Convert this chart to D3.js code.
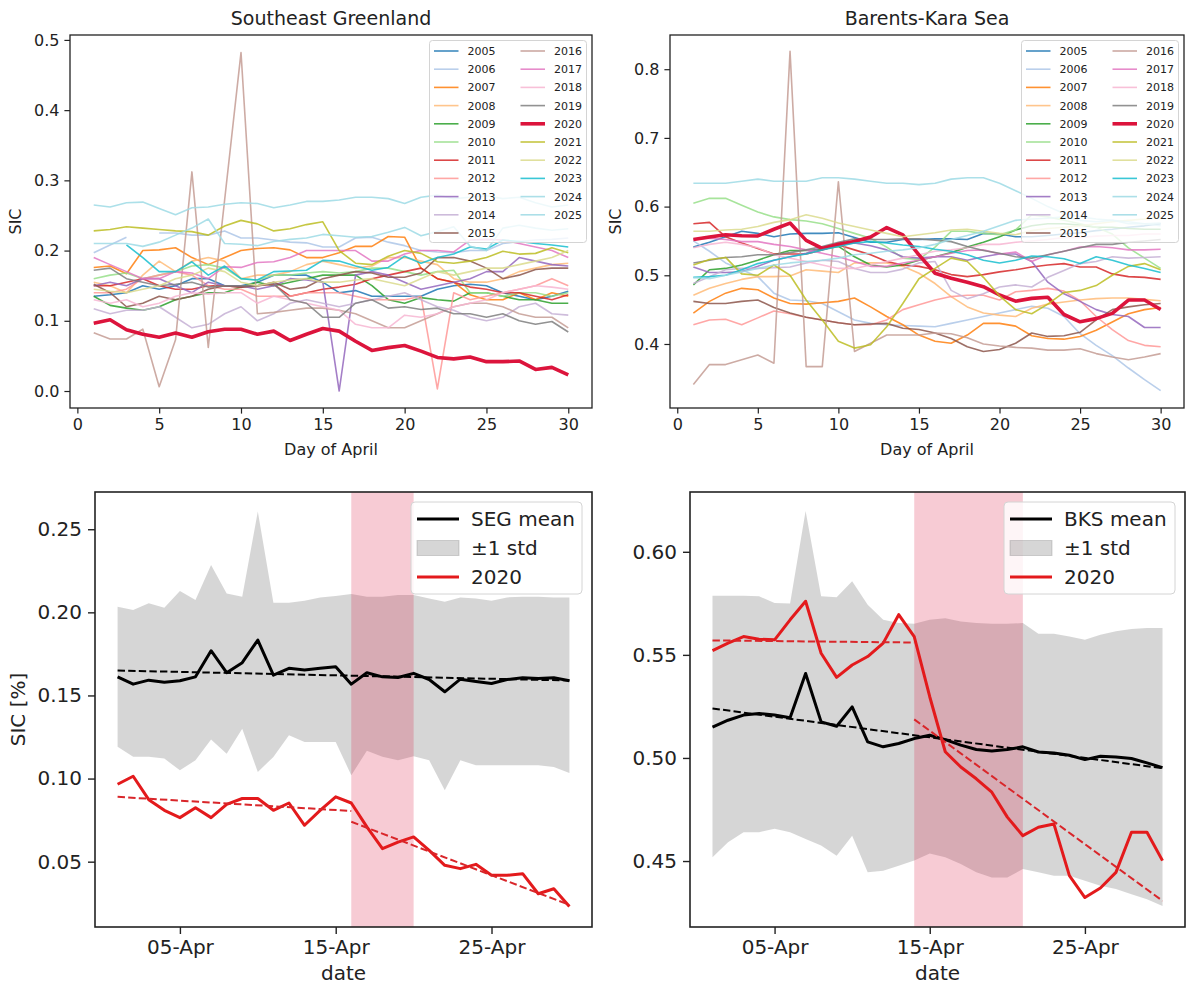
<!DOCTYPE html>
<html>
<head>
<meta charset="utf-8">
<script src="https://cdn.jsdelivr.net/npm/d3@7"></script>
<style>
  body { margin: 0; background: #fff; }
  svg { display: block; font-family: "DejaVu Sans", sans-serif; }
</style>
</head>
<body>
<svg id="chart" width="1186" height="986"></svg>
<script>
// ---- data ----
const days = [1,2,3,4,5,6,7,8,9,10,11,12,13,14,15,16,17,18,19,20,21,22,23,24,25,26,27,28,29,30];
const years = ["2005","2006","2007","2008","2009","2010","2011","2012","2013","2014","2015",
               "2016","2017","2018","2019","2020","2021","2022","2023","2024","2025"];
const yearColors = ["#1f77b4","#aec7e8","#ff7f0e","#ffbb78","#2ca02c","#98df8a","#d62728","#ff9896",
                    "#9467bd","#c5b0d5","#8c564b","#c49c94","#e377c2","#f7b6d2","#7f7f7f","#dc143c",
                    "#bcbd22","#dbdb8d","#17becf","#9edae5","#9edae5"];

// Southeast Greenland, daily SIC per year
const seg2005 = [0.135,0.137,0.14,0.15,0.145,0.15,0.16,0.16,0.15,0.15,0.155,0.165,0.165,0.165,0.155,0.14,0.143,0.135,0.135,0.135,0.135,0.145,0.15,0.152,0.15,0.14,0.135,0.13,0.135,0.142];
const seg2006 = [0.197,0.208,0.219,null,0.225,0.225,0.222,0.222,0.228,0.218,0.218,0.215,0.212,0.211,0.205,0.205,0.218,0.219,0.212,0.207,0.2,0.198,0.197,0.2,0.2,0.21,0.213,0.215,0.216,0.218];
const seg2007 = [0.176,0.178,0.167,0.2,0.201,0.204,0.19,0.18,0.19,0.2,0.203,0.204,0.201,0.19,0.19,0.197,0.206,0.206,0.22,0.219,0.175,0.16,0.155,0.137,0.13,0.13,0.14,0.13,0.14,0.135];
const seg2008 = [0.155,0.15,0.14,0.165,0.185,0.17,0.185,0.19,0.185,0.16,0.165,0.165,0.17,0.18,0.185,0.18,0.175,0.178,0.19,0.19,0.185,0.18,0.16,0.155,0.155,0.16,0.17,0.175,0.18,0.182];
const seg2009 = [0.135,0.122,0.118,0.115,0.12,0.13,0.135,0.14,0.14,0.148,0.155,0.15,0.155,0.16,0.165,0.165,0.165,0.15,0.13,0.125,0.133,0.13,0.128,0.14,0.14,0.135,0.13,0.13,0.125,0.125];
const seg2010 = [0.16,0.165,0.168,0.16,0.165,0.17,0.178,0.18,0.175,0.16,0.158,0.165,0.165,0.168,0.17,0.168,0.17,0.175,0.175,0.17,0.165,0.17,0.172,0.14,0.14,0.135,0.14,0.14,0.135,0.14];
const seg2011 = [0.15,0.15,0.155,0.16,0.15,0.145,0.145,0.15,0.15,0.148,0.15,0.152,0.135,0.14,0.145,0.148,0.152,0.16,0.165,0.17,0.175,0.16,0.155,0.148,0.145,0.14,0.14,0.135,0.13,0.137];
const seg2012 = [0.14,0.14,0.145,0.16,0.165,0.17,0.165,0.15,0.145,0.145,0.135,0.135,0.135,0.14,0.14,0.14,0.135,0.13,0.13,0.13,0.135,0.003,0.14,0.13,0.135,0.14,0.145,0.15,0.16,0.15];
const seg2013 = [0.15,0.155,0.15,0.16,0.16,0.15,0.14,0.155,0.15,0.15,0.145,0.15,0.16,0.158,0.155,0.0,0.165,0.17,0.165,0.155,0.145,0.15,0.155,0.16,0.17,0.17,0.19,0.185,0.18,0.178];
const seg2014 = [0.117,0.11,0.115,0.115,0.12,0.105,0.09,0.095,0.11,0.12,0.1,0.11,0.125,0.13,0.125,0.12,0.125,0.13,0.135,0.14,0.13,0.12,0.115,0.105,0.1,0.105,0.12,0.125,0.11,0.108];
const seg2015 = [0.152,0.14,0.12,0.125,0.135,0.13,0.135,0.145,0.15,0.148,0.15,0.155,0.145,0.148,0.16,0.165,0.17,0.168,0.162,0.162,0.168,0.19,0.19,0.185,0.175,0.16,0.165,0.173,0.175,0.175];
const seg2016 = [0.083,0.074,0.074,0.088,0.006,0.073,0.312,0.062,0.272,0.482,0.11,0.112,0.115,0.118,0.118,0.115,0.11,0.1,0.09,0.09,0.1,0.11,0.12,0.125,0.125,0.12,0.11,0.105,0.105,0.09];
const seg2017 = [0.19,0.18,0.17,0.16,0.16,0.17,0.168,0.16,0.177,0.176,0.183,0.184,0.19,0.2,0.2,0.2,0.2,0.185,0.185,0.195,0.2,0.2,0.198,0.215,0.216,0.215,0.21,0.205,0.2,0.19];
const seg2018 = [0.13,0.125,0.13,0.12,0.125,0.135,0.14,0.138,0.14,0.14,0.125,0.135,0.13,0.125,0.12,0.115,0.095,0.09,0.09,0.108,0.105,0.11,0.12,0.125,0.13,0.14,0.145,0.15,0.148,0.145];
const seg2019 = [0.172,0.175,0.16,0.155,0.15,0.152,0.155,0.148,0.15,0.15,0.15,0.153,0.13,0.125,0.105,0.105,0.125,0.13,0.118,0.12,0.116,0.118,0.11,0.11,0.105,0.11,0.1,0.095,0.099,0.084];
const seg2020 = [0.0966,0.1014,0.0873,0.0809,0.0765,0.0825,0.0765,0.0845,0.088,0.088,0.0809,0.0853,0.0719,0.0809,0.089,0.0853,0.0709,0.0578,0.0618,0.0649,0.0568,0.0478,0.0458,0.0484,0.0418,0.0418,0.0428,0.0307,0.0337,0.0231];
const seg2021 = [0.228,0.23,0.234,0.232,0.23,0.228,0.227,0.222,0.235,0.243,0.238,0.228,0.231,0.237,0.241,0.2,0.182,0.18,0.192,0.2,0.196,0.184,0.182,0.185,0.19,0.199,0.195,0.196,0.204,0.197];
const seg2022 = [0.145,0.142,0.14,0.145,0.15,0.16,0.165,0.175,0.17,0.155,0.15,0.155,0.158,0.16,0.155,0.155,0.158,0.16,0.155,0.15,0.16,0.17,0.165,0.17,0.175,0.175,0.18,0.185,0.19,0.2];
const seg2023 = [null,null,0.208,0.19,0.17,0.17,0.184,0.165,0.178,0.16,0.158,0.17,0.171,0.172,0.186,0.185,0.178,0.172,0.176,0.192,0.182,0.19,0.195,0.205,0.202,0.215,0.213,0.21,0.208,0.205];
const seg2024 = [0.265,0.262,0.268,0.269,0.26,0.251,0.261,0.262,0.266,0.268,0.267,0.261,0.265,0.27,0.27,0.272,0.276,0.276,0.274,0.267,0.276,0.279,0.274,0.276,0.278,0.274,0.276,0.268,0.262,0.265];
const seg2025 = [0.21,0.21,0.21,0.206,0.212,0.222,0.232,0.245,0.21,0.209,0.207,0.213,0.216,0.218,0.223,0.221,0.219,0.22,0.226,0.233,0.221,0.227,0.234,0.206,0.2,0.232,0.236,0.232,0.229,0.231];

// Barents-Kara Sea, daily SIC per year
const bks2005 = [0.541,0.548,0.556,0.564,0.561,0.556,0.56,0.561,0.561,0.562,0.555,0.548,0.548,0.552,0.552,0.553,0.553,0.552,0.561,0.56,0.556,0.556,0.558,0.56,0.562,0.565,0.567,0.57,0.572,0.575];
const bks2006 = [0.55,0.535,0.518,0.508,0.498,0.474,0.464,0.463,0.459,0.447,0.435,0.43,0.428,0.427,0.426,0.425,0.43,0.435,0.44,0.445,0.45,0.455,0.452,0.44,0.415,0.398,0.383,0.365,0.348,0.332];
const bks2007 = [0.445,0.462,0.474,0.481,0.479,0.467,0.459,0.458,0.46,0.462,0.467,0.454,0.44,0.428,0.413,0.404,0.401,0.413,0.43,0.43,0.426,0.412,0.408,0.407,0.411,0.42,0.432,0.444,0.45,0.453];
const bks2008 = [0.471,0.481,0.488,0.494,0.498,0.498,0.499,0.508,0.506,0.504,0.518,0.518,0.518,0.513,0.503,0.488,0.469,0.454,0.445,0.442,0.44,0.452,0.458,0.461,0.464,0.466,0.467,0.467,0.465,0.463];
const bks2009 = [0.486,0.508,0.51,0.515,0.522,0.53,0.536,0.536,0.538,0.542,0.527,0.515,0.512,0.515,0.522,0.527,0.533,0.541,0.548,0.556,0.566,0.572,0.575,0.575,0.573,0.57,0.57,0.568,0.567,0.567];
const bks2010 = [0.605,0.612,0.612,0.602,0.592,0.585,0.581,0.579,0.575,0.568,0.561,0.554,0.541,0.525,0.523,0.541,0.564,0.564,0.561,0.559,0.566,0.588,0.585,0.58,0.575,0.57,0.56,0.54,0.525,0.51];
const bks2011 = [0.575,0.577,0.556,0.547,0.539,0.531,0.531,0.531,0.537,0.544,0.537,0.53,0.52,0.515,0.513,0.508,0.501,0.498,0.501,0.505,0.508,0.512,0.515,0.517,0.512,0.512,0.502,0.498,0.497,0.494];
const bks2012 = [0.428,0.435,0.436,0.428,0.438,0.448,0.444,0.439,0.435,0.431,0.428,0.428,0.435,0.45,0.457,0.464,0.469,0.471,0.471,0.464,0.476,0.478,0.481,0.477,0.463,0.44,0.421,0.405,0.398,0.396];
const bks2013 = [0.512,0.504,0.504,0.505,0.513,0.522,0.527,0.532,0.541,0.544,0.547,0.543,0.537,0.527,0.525,0.527,0.527,0.522,0.527,0.531,0.531,0.52,0.49,0.473,0.462,0.45,0.443,0.44,0.424,0.424];
const bks2014 = [0.488,0.498,0.508,0.51,0.51,0.511,0.512,0.518,0.522,0.52,0.51,0.504,0.504,0.509,0.518,0.52,0.478,0.466,0.473,0.483,0.486,0.483,0.497,0.507,0.517,0.52,0.527,0.525,0.526,0.527];
const bks2015 = [0.462,0.459,0.459,0.462,0.464,0.453,0.445,0.439,0.435,0.431,0.428,0.429,0.43,0.423,0.421,0.416,0.408,0.396,0.389,0.392,0.401,0.416,0.411,0.412,0.417,0.435,0.45,0.454,0.457,0.459];
const bks2016 = [0.341,0.37,0.37,0.377,0.384,0.372,0.826,0.367,0.367,0.636,0.389,0.401,0.413,0.413,0.413,0.416,0.415,0.409,0.4,0.397,0.395,0.394,0.391,0.391,0.393,0.386,0.381,0.377,0.381,0.386];
const bks2017 = [0.552,0.554,0.552,0.549,0.549,0.545,0.542,0.537,0.532,0.527,0.52,0.513,0.513,0.518,0.522,0.527,0.532,0.536,0.537,0.531,0.534,0.52,0.53,0.535,0.541,0.542,0.54,0.537,0.537,0.538];
const bks2018 = [0.54,0.545,0.548,0.545,0.54,0.53,0.525,0.52,0.515,0.51,0.51,0.515,0.52,0.525,0.53,0.535,0.537,0.54,0.545,0.545,0.548,0.55,0.552,0.555,0.555,0.557,0.558,0.558,0.56,0.56];
const bks2019 = [0.518,0.522,0.526,0.527,0.53,0.53,0.533,0.537,0.542,0.548,0.553,0.552,0.552,0.553,0.553,0.551,0.549,0.542,0.536,0.532,0.527,0.525,0.53,0.535,0.54,0.545,0.545,0.548,0.55,0.552];
const bks2020 = [0.5521,0.5557,0.5589,0.5576,0.5573,0.567,0.576,0.5508,0.5391,0.5451,0.5492,0.5557,0.5695,0.5589,0.5297,0.503,0.4956,0.4899,0.4834,0.4713,0.4623,0.4664,0.468,0.4429,0.4323,0.4369,0.4445,0.464,0.464,0.4502];
const bks2021 = [0.515,0.523,0.526,0.502,0.5,0.515,0.5,0.464,0.435,0.404,0.394,0.399,0.425,0.459,0.495,0.51,0.525,0.52,0.497,0.47,0.45,0.444,0.458,0.475,0.478,0.485,0.5,0.513,0.517,0.508];
const bks2022 = [0.564,0.564,0.566,0.567,0.571,0.577,0.581,0.588,0.583,0.576,0.571,0.566,0.561,0.556,0.559,0.562,0.566,0.567,0.564,0.561,0.559,0.565,0.568,0.57,0.572,0.575,0.578,0.58,0.582,0.585];
const bks2023 = [0.497,0.498,0.5,0.508,0.517,0.522,0.527,0.531,0.537,0.542,0.547,0.549,0.547,0.544,0.542,0.538,0.535,0.53,0.522,0.518,0.522,0.528,0.527,0.524,0.517,0.527,0.522,0.515,0.51,0.504];
const bks2024 = [0.634,0.634,0.634,0.637,0.64,0.637,0.637,0.637,0.642,0.642,0.64,0.637,0.634,0.634,0.632,0.634,0.64,0.642,0.642,0.634,0.623,0.612,0.6,0.59,0.585,0.582,0.58,0.578,0.575,0.572];
const bks2025 = [0.497,0.495,0.5,0.505,0.51,0.515,0.518,0.52,0.522,0.525,0.53,0.532,0.535,0.537,0.54,0.545,0.552,0.558,0.564,0.572,0.58,0.582,0.583,0.585,0.58,0.578,0.58,0.575,0.575,0.576];

// climatology (mean and +-1 std)
const segMean  = [0.1612,0.1568,0.1592,0.158,0.1588,0.1612,0.1769,0.1637,0.1697,0.1833,0.1622,0.1663,0.1653,0.1663,0.1673,0.1568,0.1637,0.1612,0.1608,0.1633,0.1596,0.1522,0.1598,0.1584,0.1572,0.1596,0.1606,0.1602,0.1606,0.1588];
const segStdHi = [0.2034,0.2014,0.2054,0.2028,0.2129,0.2074,0.2285,0.2114,0.2094,0.2606,0.2058,0.2058,0.207,0.209,0.2098,0.211,0.2094,0.2094,0.2104,0.2104,0.2084,0.2064,0.209,0.2084,0.207,0.209,0.2094,0.2094,0.209,0.209];
const segStdLo = [0.1191,0.1131,0.1131,0.112,0.105,0.111,0.1235,0.115,0.13,0.104,0.113,0.126,0.122,0.122,0.122,0.102,0.1167,0.1131,0.111,0.1135,0.111,0.093,0.111,0.108,0.108,0.108,0.108,0.108,0.107,0.1034];
const bksMean  = [0.515,0.5183,0.5208,0.5216,0.5208,0.5195,0.541,0.5175,0.5154,0.5248,0.5078,0.5054,0.507,0.5094,0.511,0.5089,0.5062,0.5041,0.5034,0.5041,0.5054,0.5029,0.5024,0.5013,0.4992,0.5008,0.5005,0.4997,0.4976,0.4953];
const bksStdHi = [0.5787,0.5787,0.5787,0.5784,0.5752,0.5749,0.6198,0.5784,0.578,0.5857,0.5743,0.567,0.5654,0.5651,0.567,0.5678,0.5662,0.5654,0.5651,0.5651,0.5654,0.5602,0.5602,0.5589,0.5573,0.5597,0.5614,0.5625,0.563,0.563];
const bksStdLo = [0.4518,0.4591,0.464,0.464,0.4656,0.464,0.4607,0.4575,0.4526,0.4623,0.4445,0.4453,0.4477,0.4502,0.4537,0.4518,0.4485,0.4445,0.442,0.442,0.4461,0.4445,0.4429,0.4429,0.4404,0.438,0.4364,0.4339,0.4315,0.4282];

// trend lines [day, value] and highlighted day spans
const segMeanTrend = [[1, 0.165], [30, 0.159]];
const seg2020TrendA = [[1, 0.089], [16, 0.0805]];
const seg2020TrendB = [[16, 0.074], [30, 0.024]];
const bksMeanTrend = [[1, 0.524], [30, 0.495]];
const bks2020TrendA = [[1, 0.557], [14, 0.556]];
const bks2020TrendB = [[14, 0.5187], [30, 0.4307]];
const segSpan = [16, 20];
const bksSpan = [14, 21];

const segTicks = [0, 0.1, 0.2, 0.3, 0.4, 0.5];
const bksTicks = [0.4, 0.5, 0.6, 0.7, 0.8];
const dayTicks = [0, 5, 10, 15, 20, 25, 30];
const segMeanTicks = [0.05, 0.10, 0.15, 0.20, 0.25];
const bksMeanTicks = [0.45, 0.50, 0.55, 0.60];
const dateTicks = [5, 15, 25];

const segSeries = [seg2005,seg2006,seg2007,seg2008,seg2009,seg2010,seg2011,seg2012,seg2013,seg2014,seg2015,
                   seg2016,seg2017,seg2018,seg2019,seg2020,seg2021,seg2022,seg2023,seg2024,seg2025];
const bksSeries = [bks2005,bks2006,bks2007,bks2008,bks2009,bks2010,bks2011,bks2012,bks2013,bks2014,bks2015,
                   bks2016,bks2017,bks2018,bks2019,bks2020,bks2021,bks2022,bks2023,bks2024,bks2025];

const svg = d3.select("#chart");
const textColor = "#222";

function styleAxis(g, fs) {
    g.select(".domain").remove();
    g.selectAll(".tick line").attr("stroke", "#222").attr("stroke-width", fs > 17 ? 1.4 : 1.2);
    g.selectAll(".tick text").attr("fill", textColor).style("font-size", fs + "px")
        .style("font-family", "DejaVu Sans");
}

// top row: one line per year
function drawYearPanel(p) {
    const x = d3.scaleLinear().domain([-0.45, 31.45]).range([p.left, p.right]);
    const y = d3.scaleLinear().domain(p.yDomain).range([p.bottom, p.top]);
    const g = svg.append("g");

    const line = d3.line()
        .defined(d => d[1] != null)
        .x(d => x(d[0]))
        .y(d => y(d[1]));

    p.series.forEach((s, i) => {
        const is2020 = years[i] === "2020";
        g.append("path")
            .datum(days.map((d, j) => [d, s[j]]))
            .attr("d", line)
            .attr("fill", "none")
            .attr("stroke", yearColors[i])
            .attr("stroke-width", is2020 ? 3.6 : 1.6)
            .attr("stroke-linejoin", "round")
            .attr("opacity", is2020 ? 1 : 0.85);
    });

    const fs = 16;
    g.append("g").attr("transform", `translate(0,${p.bottom})`)
        .call(d3.axisBottom(x).tickValues(dayTicks).tickFormat(d3.format("d")).tickSize(5.6).tickPadding(5))
        .call(a => styleAxis(a, fs));
    g.append("g").attr("transform", `translate(${p.left},0)`)
        .call(d3.axisLeft(y).tickValues(p.yTicks).tickFormat(d3.format(".1f")).tickSize(5.6).tickPadding(5))
        .call(a => styleAxis(a, fs));

    g.append("rect")
        .attr("x", p.left).attr("y", p.top)
        .attr("width", p.right - p.left).attr("height", p.bottom - p.top)
        .attr("fill", "none").attr("stroke", "#222").attr("stroke-width", 1.3);

    g.append("text").attr("x", (p.left + p.right) / 2).attr("y", p.top - 10)
        .attr("text-anchor", "middle").attr("fill", textColor)
        .style("font-size", "19px").text(p.title);
    g.append("text").attr("x", (p.left + p.right) / 2).attr("y", p.bottom + 47)
        .attr("text-anchor", "middle").attr("fill", textColor)
        .style("font-size", "16px").text("Day of April");
    g.append("text")
        .attr("transform", `translate(${p.left - 49},${(p.top + p.bottom) / 2}) rotate(-90)`)
        .attr("text-anchor", "middle").attr("fill", textColor)
        .style("font-size", "16px").text("SIC");

    // legend, two columns
    const lw = 157, lh = 202;
    const lx = p.right - 5.5 - lw, ly = p.top + 5.5;
    const leg = g.append("g").attr("transform", `translate(${lx},${ly})`);
    leg.append("rect").attr("width", lw).attr("height", lh).attr("rx", 3)
        .attr("fill", "white").attr("fill-opacity", 0.8)
        .attr("stroke", "#d4d4d4").attr("stroke-width", 1);
    years.forEach((yr, i) => {
        const col = i < 11 ? 0 : 1;
        const row = i < 11 ? i : i - 11;
        const cx = col === 0 ? 4.5 : 91;
        const cy = 10.5 + row * 18.2;
        leg.append("line").attr("x1", cx).attr("x2", cx + 24.5).attr("y1", cy).attr("y2", cy)
            .attr("stroke", yearColors[i]).attr("stroke-width", yr === "2020" ? 3.6 : 1.6)
            .attr("opacity", yr === "2020" ? 1 : 0.85);
        leg.append("text").attr("x", cx + 33.5).attr("y", cy).attr("dy", "0.36em")
            .attr("fill", textColor).style("font-size", "11px").text(yr);
    });
}

// bottom row: climatology vs 2020
function drawMeanPanel(p) {
    const dayDate = d => new Date(Date.UTC(2020, 3, d));
    const pad = 1.45 * 864e5;
    const x = d3.scaleUtc().domain([+dayDate(1) - pad, +dayDate(30) + pad]).range([p.left, p.right]);
    const y = d3.scaleLinear().domain(p.yDomain).range([p.bottom, p.top]);
    const g = svg.append("g");

    const area = d3.area()
        .x((d, i) => x(dayDate(days[i])))
        .y0((d, i) => y(p.stdLo[i]))
        .y1((d, i) => y(p.stdHi[i]));
    g.append("path").datum(days).attr("d", area)
        .attr("fill", "gray").attr("fill-opacity", 0.32);

    g.append("rect")
        .attr("x", x(dayDate(p.span[0]))).attr("y", p.top)
        .attr("width", x(dayDate(p.span[1])) - x(dayDate(p.span[0])))
        .attr("height", p.bottom - p.top)
        .attr("fill", "#dc143c").attr("fill-opacity", 0.22);

    const line = d3.line().x(d => x(dayDate(d[0]))).y(d => y(d[1]));
    const red = "#e31a1c";

    g.append("path").datum(days.map((d, i) => [d, p.mean[i]])).attr("d", line)
        .attr("fill", "none").attr("stroke", "black").attr("stroke-width", 3).attr("stroke-linejoin", "round");
    g.append("path").datum(days.map((d, i) => [d, p.y2020[i]])).attr("d", line)
        .attr("fill", "none").attr("stroke", red).attr("stroke-width", 3).attr("stroke-linejoin", "round");

    g.append("path").datum(p.meanTrend).attr("d", line)
        .attr("fill", "none").attr("stroke", "black").attr("stroke-width", 2).attr("stroke-dasharray", "7.4,3.2");
    [p.trendA, p.trendB].forEach(t => {
        g.append("path").datum(t).attr("d", line)
            .attr("fill", "none").attr("stroke", "#d9262a").attr("stroke-width", 2).attr("stroke-dasharray", "7.4,3.2");
    });

    const fs = 20;
    g.append("g").attr("transform", `translate(0,${p.bottom})`)
        .call(d3.axisBottom(x).tickValues(dateTicks.map(dayDate)).tickFormat(d3.utcFormat("%d-%b")).tickSize(7).tickPadding(6))
        .call(a => styleAxis(a, fs));
    g.append("g").attr("transform", `translate(${p.left},0)`)
        .call(d3.axisLeft(y).tickValues(p.yTicks).tickFormat(d3.format(".2f")).tickSize(7).tickPadding(6))
        .call(a => styleAxis(a, fs));

    g.append("rect")
        .attr("x", p.left).attr("y", p.top)
        .attr("width", p.right - p.left).attr("height", p.bottom - p.top)
        .attr("fill", "none").attr("stroke", "#222").attr("stroke-width", 1.6);

    g.append("text").attr("x", (p.left + p.right) / 2).attr("y", p.bottom + 53)
        .attr("text-anchor", "middle").attr("fill", textColor)
        .style("font-size", "20px").text("date");
    if (p.ylabel) {
        g.append("text")
            .attr("transform", `translate(${p.left - 70},${(p.top + p.bottom) / 2}) rotate(-90)`)
            .attr("text-anchor", "middle").attr("fill", textColor)
            .style("font-size", "20px").text(p.ylabel);
    }

    // legend
    const lw = 171, lh = 92;
    const lx = p.right - 10 - lw, ly = p.top + 10;
    const leg = g.append("g").attr("transform", `translate(${lx},${ly})`);
    leg.append("rect").attr("width", lw).attr("height", lh).attr("rx", 4)
        .attr("fill", "white").attr("fill-opacity", 0.8)
        .attr("stroke", "#d4d4d4").attr("stroke-width", 1);
    const items = [
        { label: p.meanLabel, kind: "line", color: "black" },
        { label: "\u00b11 std", kind: "patch" },
        { label: "2020", kind: "line", color: red }
    ];
    items.forEach((it, i) => {
        const cy = 17 + i * 29;
        if (it.kind === "line") {
            leg.append("line").attr("x1", 6).attr("x2", 48).attr("y1", cy).attr("y2", cy)
                .attr("stroke", it.color).attr("stroke-width", 3);
        } else {
            leg.append("rect").attr("x", 6).attr("y", cy - 7.5).attr("width", 42).attr("height", 15)
                .attr("fill", "gray").attr("fill-opacity", 0.32)
                .attr("stroke", "gray").attr("stroke-opacity", 0.32);
        }
        leg.append("text").attr("x", 60).attr("y", cy).attr("dy", "0.36em")
            .attr("fill", textColor).style("font-size", "20px").text(it.label);
    });
}

drawYearPanel({
    left: 70, right: 592, top: 35, bottom: 408,
    yDomain: [-0.0242, 0.507], yTicks: segTicks,
    series: segSeries, title: "Southeast Greenland"
});
drawYearPanel({
    left: 670, right: 1184, top: 35, bottom: 408,
    yDomain: [0.3068, 0.8498], yTicks: bksTicks,
    series: bksSeries, title: "Barents-Kara Sea"
});
drawMeanPanel({
    left: 95, right: 592, top: 492, bottom: 927,
    yDomain: [0.0107, 0.2724], yTicks: segMeanTicks,
    mean: segMean, stdLo: segStdLo, stdHi: segStdHi, y2020: seg2020,
    meanTrend: segMeanTrend, trendA: seg2020TrendA, trendB: seg2020TrendB,
    span: segSpan, meanLabel: "SEG mean", ylabel: "SIC [%]"
});
drawMeanPanel({
    left: 690, right: 1185, top: 492, bottom: 927,
    yDomain: [0.418, 0.629], yTicks: bksMeanTicks,
    mean: bksMean, stdLo: bksStdLo, stdHi: bksStdHi, y2020: bks2020,
    meanTrend: bksMeanTrend, trendA: bks2020TrendA, trendB: bks2020TrendB,
    span: bksSpan, meanLabel: "BKS mean", ylabel: null
});
</script>
</body>
</html>
